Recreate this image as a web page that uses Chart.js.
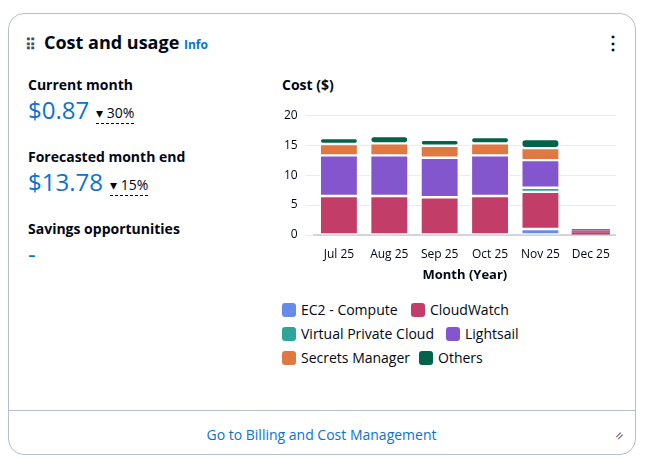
<html>
<head>
<script src="https://cdn.jsdelivr.net/npm/chart.js"></script>
<style>
body{margin:0;background:#fff;font-family:"Open Sans",Roboto,sans-serif;color:#000716}
.card{position:absolute;left:8px;top:13px;width:628px;height:442px;border:1px solid #b6bec9;border-radius:16px;box-sizing:border-box}
.lbl{position:absolute;font-size:14px;font-weight:bold}
.big{position:absolute;font-size:24px;color:#0972d3}
.pct{position:absolute;font-size:14px;border-bottom:1px dashed #000716;padding-bottom:1px}
.leg{position:absolute;font-size:14px;display:flex;align-items:center}
.leg i{display:inline-block;width:14px;height:14px;border-radius:3px;margin-right:5px}
</style>
</head>
<body>
<div class="card"></div>
<div style="position:absolute;left:25px;top:34px;font-size:15px;letter-spacing:1px;color:#414d5c;font-weight:bold">⠿</div>
<div style="position:absolute;left:44px;top:30px;font-size:18px;font-weight:bold">Cost and usage <span style="font-size:12px;color:#0972d3">Info</span></div>
<div style="position:absolute;left:604px;top:30px;font-size:18px;font-weight:bold">⋮</div>
<div class="lbl" style="left:28px;top:75px">Current month</div>
<div class="big" style="left:28px;top:93px">$0.87</div>
<div class="pct" style="left:96px;top:103px">▾ 30%</div>
<div class="lbl" style="left:28px;top:147px">Forecasted month end</div>
<div class="big" style="left:28px;top:165px">$13.78</div>
<div class="pct" style="left:110px;top:175px">▾ 15%</div>
<div class="lbl" style="left:28px;top:219px">Savings opportunities</div>
<div class="big" style="left:28px;top:237px">-</div>
<div class="lbl" style="left:282px;top:75px">Cost ($)</div>
<canvas id="c" width="340" height="187" style="position:absolute;left:276px;top:100px"></canvas>
<div id="legend"></div>
<div style="position:absolute;left:9px;top:410px;width:626px;border-top:1px solid #b6bec9"></div>
<div style="position:absolute;left:0;width:643px;top:425px;text-align:center;font-size:14px;color:#0972d3">Go to Billing and Cost Management</div>
<div style="position:absolute;left:615px;top:426px;font-size:14px;color:#414d5c;transform:rotate(-45deg)">=</div>
<script>
const months = ['Jul 25','Aug 25','Sep 25','Oct 25','Nov 25','Dec 25'];
const services = ['EC2 - Compute','CloudWatch','Virtual Private Cloud','Lightsail','Secrets Manager','Others'];
const colors = ['#688ae8','#c33d69','#2ea597','#8456ce','#e07941','#016349'];
const ec2 = [0,0,0,0,1.0,0.1];
const cloudwatch = [6.5,6.5,6.3,6.5,6.2,0.35];
const vpc = [0,0,0,0,0.7,0.2];
const lightsail = [6.8,6.8,6.6,6.8,4.6,0.1];
const secrets = [1.9,2.0,2.0,2.0,2.0,0.1];
const others = [1.0,1.2,1.0,1.05,1.5,0.1];
const yTicks = [0,5,10,15,20];
const series = [ec2,cloudwatch,vpc,lightsail,secrets,others];

new Chart(document.getElementById('c'), {
  type:'bar',
  data:{labels:months,datasets:series.map((d,i)=>({label:services[i],data:d,backgroundColor:colors[i],borderColor:'#fff',
    borderWidth:ctx=>ctx.dataIndex===5?0:1.2,borderRadius:ctx=>ctx.dataIndex===5?1:4,borderSkipped:false,barPercentage:0.76,categoryPercentage:1}))},
  options:{responsive:false,animation:false,
    plugins:{legend:{display:false},tooltip:{enabled:false}},
    scales:{
      x:{stacked:true,grid:{display:false},border:{color:'#d1d5db',width:2},ticks:{color:'#000716',padding:4,font:{size:12,family:'Open Sans'}},
         title:{display:true,text:'Month (Year)',color:'#000716',font:{size:13,weight:'bold',family:'Open Sans'},padding:{top:2}}},
      y:{stacked:true,min:0,max:20,afterBuildTicks:a=>{a.ticks=yTicks.map(v=>({value:v}))},
         grid:{color:'#e9ebed'},border:{display:false},ticks:{color:'#000716',padding:8,font:{size:12,family:'Open Sans'}}}
    }}
});
const pos=[[282,300],[411,300],[282,324],[446,324],[282,348],[419,348]];
const lg=document.getElementById('legend');
services.forEach((s,i)=>{const d=document.createElement('div');d.className='leg';d.style.left=pos[i][0]+'px';d.style.top=pos[i][1]+'px';d.innerHTML='<i style="background:'+colors[i]+'"></i>'+s;lg.appendChild(d);});
</script>
</body>
</html>
